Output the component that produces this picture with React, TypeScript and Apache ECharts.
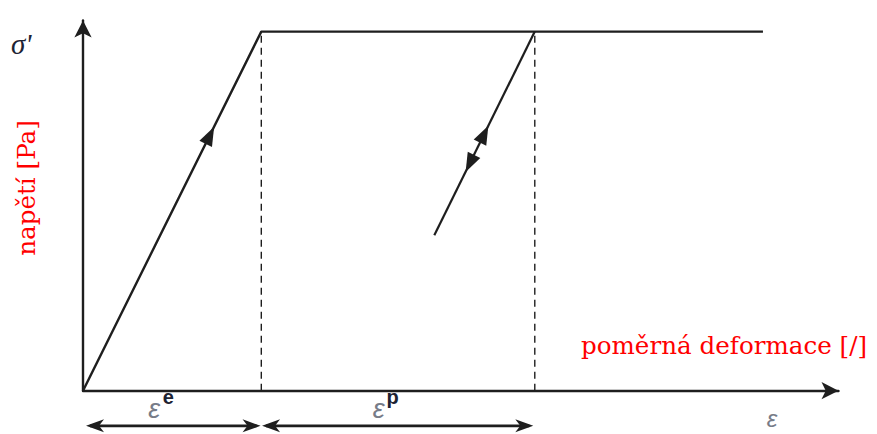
import React, { useEffect, useRef } from "react";
import * as echarts from "echarts";

// Idealised elastic – perfectly plastic response: [strain, stress]
const loadingPath: [number, number][] = [
  [0, 0],
  [2.36, 9.7],
  [9.0, 9.7],
];
const unloadingPath: [number, number][] = [
  [5.98, 9.7],
  [4.65, 4.2],
];
const elasticLimitGuide: [number, number][] = [
  [2.36, 0],
  [2.36, 9.7],
];
const unloadStartGuide: [number, number][] = [
  [5.98, 0],
  [5.98, 9.7],
];
// Direction markers: [strain, stress, towards strain, towards stress]
const directionArrows: number[][] = [
  [1.68, 6.9, 2.36, 9.7],
  [5.31, 6.93, 5.98, 9.7],
  [5.12, 6.14, 4.65, 4.2],
];
// Strain components shown under the axis: [from, to, level]
const strainParts: number[][] = [
  [0.04, 2.35, -0.95],
  [2.37, 5.96, -0.95],
];
const strainPartLabels = ["e", "p"];

const INK = "#1e1e1e";

export default function App() {
  const ref = useRef<HTMLDivElement>(null);

  useEffect(() => {
    if (!ref.current) return;
    const chart = echarts.init(ref.current, null, { renderer: "svg" });

    const axisCommon = {
      type: "value" as const,
      min: 0,
      max: 10,
      axisLine: {
        show: true,
        onZero: false,
        symbol: ["none", "arrow"],
        symbolSize: [13, 17],
        lineStyle: { color: INK, width: 2.4 },
      },
      axisTick: { show: false },
      axisLabel: { show: false },
      splitLine: { show: false },
    };

    chart.setOption({
      animation: false,
      backgroundColor: "#ffffff",
      grid: { left: 83, right: 38.5, top: 20.5, bottom: 43.3 },
      xAxis: axisCommon,
      yAxis: axisCommon,
      series: [
        {
          type: "line",
          data: loadingPath,
          symbol: "none",
          lineStyle: { color: INK, width: 2.4 },
        },
        {
          type: "line",
          data: unloadingPath,
          symbol: "none",
          lineStyle: { color: INK, width: 2.2 },
        },
        {
          type: "line",
          data: elasticLimitGuide,
          symbol: "none",
          lineStyle: { color: INK, width: 1.4, type: [7, 5] },
        },
        {
          type: "line",
          data: unloadStartGuide,
          symbol: "none",
          lineStyle: { color: INK, width: 1.4, type: [7, 5] },
        },
        {
          type: "custom",
          data: directionArrows,
          encode: { x: [0, 2], y: [1, 3] },
          renderItem: (_params: any, api: any) => {
            const c = api.coord([api.value(0), api.value(1)]);
            const t = api.coord([api.value(2), api.value(3)]);
            const dx = t[0] - c[0];
            const dy = t[1] - c[1];
            const len = Math.hypot(dx, dy) || 1;
            const ux = dx / len;
            const uy = dy / len;
            const nx = -uy;
            const ny = ux;
            const L = 19;
            const W = 14;
            return {
              type: "polygon",
              shape: {
                points: [
                  [c[0] + (ux * L) / 2, c[1] + (uy * L) / 2],
                  [c[0] - (ux * L) / 2 + (nx * W) / 2, c[1] - (uy * L) / 2 + (ny * W) / 2],
                  [c[0] - (ux * L) / 2 - (nx * W) / 2, c[1] - (uy * L) / 2 - (ny * W) / 2],
                ],
              },
              style: { fill: INK },
            };
          },
        },
        {
          type: "custom",
          data: strainParts,
          encode: { x: [0, 1], y: 2 },
          renderItem: (params: any, api: any) => {
            const a = api.coord([api.value(0), api.value(2)]);
            const b = api.coord([api.value(1), api.value(2)]);
            const y = a[1];
            const L = 18;
            const W = 13;
            const notch = 5;
            const mid = (a[0] + b[0]) / 2;
            return {
              type: "group",
              children: [
                {
                  type: "line",
                  shape: { x1: a[0] + 4, y1: y, x2: b[0] - 4, y2: y },
                  style: { stroke: INK, lineWidth: 2.8 },
                },
                {
                  type: "polygon",
                  shape: {
                    points: [
                      [a[0], y],
                      [a[0] + L, y - W / 2],
                      [a[0] + L - notch, y],
                      [a[0] + L, y + W / 2],
                    ],
                  },
                  style: { fill: INK },
                },
                {
                  type: "polygon",
                  shape: {
                    points: [
                      [b[0], y],
                      [b[0] - L, y - W / 2],
                      [b[0] - L + notch, y],
                      [b[0] - L, y + W / 2],
                    ],
                  },
                  style: { fill: INK },
                },
                {
                  type: "text",
                  x: mid - 19,
                  y: y - 17,
                  style: {
                    text: "ε",
                    fill: "#777c88",
                    fontFamily: "Liberation Sans",
                    fontStyle: "italic",
                    fontSize: 27,
                    align: "center",
                    verticalAlign: "middle",
                  },
                },
                {
                  type: "text",
                  x: mid - 5,
                  y: y - 29,
                  style: {
                    text: strainPartLabels[params.dataIndex],
                    fill: "#1c2232",
                    fontFamily: "Liberation Sans",
                    fontWeight: "bold",
                    fontSize: 20,
                    align: "center",
                    verticalAlign: "middle",
                  },
                },
              ],
            };
          },
        },
      ],
      graphic: [
        {
          type: "text",
          x: 11,
          y: 43.5,
          style: {
            text: "σ'",
            fill: "#1d2333",
            fontFamily: "Liberation Serif",
            fontStyle: "italic",
            fontSize: 29,
            align: "left",
            verticalAlign: "middle",
          },
        },
        {
          type: "text",
          x: 772,
          y: 418,
          style: {
            text: "ε",
            fill: "#777c88",
            fontFamily: "Liberation Sans",
            fontStyle: "italic",
            fontSize: 24,
            align: "center",
            verticalAlign: "middle",
          },
        },
        {
          type: "text",
          x: 26,
          y: 188,
          rotation: Math.PI / 2,
          style: {
            text: "napětí [Pa]",
            fill: "#ff0000",
            fontFamily: "DejaVu Serif",
            fontSize: 24.6,
            align: "center",
            verticalAlign: "middle",
          },
        },
        {
          type: "text",
          x: 581,
          y: 345,
          style: {
            text: "poměrná deformace [/]",
            fill: "#ff0000",
            fontFamily: "DejaVu Serif",
            fontSize: 24.6,
            align: "left",
            verticalAlign: "middle",
          },
        },
      ],
    });

    return () => chart.dispose();
  }, []);

  return (
    <div
      ref={ref}
      style={{ position: "fixed", left: 0, top: 0, width: 877, height: 434 }}
    />
  );
}
